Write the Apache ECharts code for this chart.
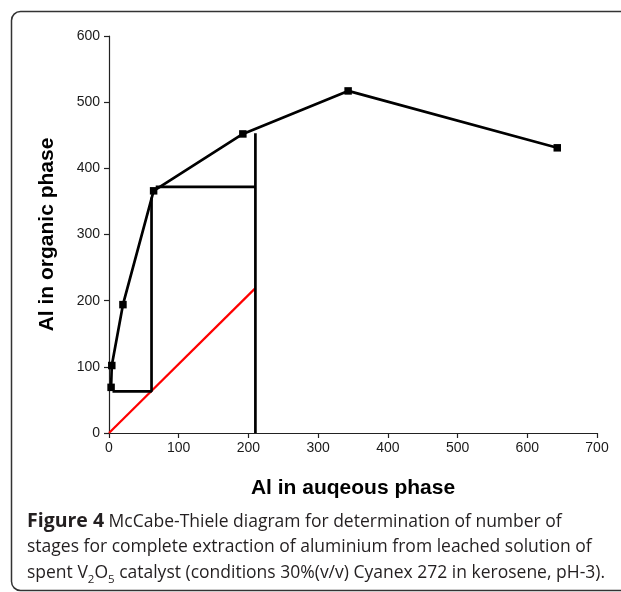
<!DOCTYPE html>
<html>
<head>
<meta charset="utf-8">
<script src="https://cdn.jsdelivr.net/npm/echarts@6/dist/echarts.min.js"></script>
<style>
  html, body { margin: 0; padding: 0; background: #fff; }
  #chart { width: 621px; height: 592px; }
</style>
</head>
<body>
<div id="chart"></div>
<script>
// equilibrium curve (aqueous, organic)
const equilibrium = [[3, 69], [4, 102], [20, 194], [64, 366], [192, 452], [343, 517], [643, 431]];
// stage construction lines
const stepOne = [[5, 63], [61, 63], [61, 356]];
const stepTwo = [[67, 372], [210, 372]];
const stepThree = [[210, 453], [210, 0]];
// operating line
const operating = [[0, 0], [210, 219]];

const xTicks = { min: 0, max: 700, interval: 100 };
const yTicks = { min: 0, max: 600, interval: 100 };

const chart = echarts.init(document.getElementById('chart'), null, { renderer: 'canvas' });

const stepStyle = {
  type: 'line',
  symbol: 'none',
  silent: true,
  lineStyle: { color: '#000', width: 2.7 },
  z: 3
};

const option = {
  backgroundColor: '#fff',
  animation: false,
  grid: { left: 109, right: 24, top: 36, bottom: 159 },
  xAxis: {
    type: 'value',
    min: xTicks.min, max: xTicks.max, interval: xTicks.interval,
    name: 'Al in auqeous phase',
    nameLocation: 'middle',
    nameGap: 45,
    nameTextStyle: { fontFamily: 'Liberation Sans', fontWeight: 'bold', fontSize: 21, color: '#000' },
    axisLine: { onZero: false, lineStyle: { color: '#222', width: 1.2 } },
    axisTick: { length: 5, lineStyle: { color: '#222', width: 1.2 } },
    axisLabel: { fontFamily: 'Liberation Sans', fontSize: 14, color: '#1a1a1a', margin: 8 },
    splitLine: { show: false }
  },
  yAxis: {
    type: 'value',
    min: yTicks.min, max: yTicks.max, interval: yTicks.interval,
    name: 'Al in organic phase',
    nameLocation: 'middle',
    nameGap: 51,
    nameTextStyle: { fontFamily: 'Liberation Sans', fontWeight: 'bold', fontSize: 21, color: '#000' },
    axisLine: { show: true, onZero: false, lineStyle: { color: '#222', width: 1.2 } },
    axisTick: { show: true, length: 5, lineStyle: { color: '#222', width: 1.2 } },
    axisLabel: { fontFamily: 'Liberation Sans', fontSize: 14, color: '#1a1a1a', margin: 9 },
    splitLine: { show: false }
  },
  series: [
    {
      type: 'line',
      data: operating,
      symbol: 'none',
      lineStyle: { color: '#ff0000', width: 2.2 },
      z: 2
    },
    Object.assign({ data: stepOne }, stepStyle),
    Object.assign({ data: stepTwo }, stepStyle),
    Object.assign({ data: stepThree }, stepStyle),
    {
      type: 'line',
      data: equilibrium,
      symbol: 'rect',
      symbolSize: 7.5,
      itemStyle: { color: '#000' },
      lineStyle: { color: '#000', width: 2.7 },
      z: 4
    }
  ],
  graphic: [
    {
      type: 'rect',
      shape: { x: 11.5, y: 11.5, width: 650, height: 579, r: 9 },
      style: { fill: 'none', stroke: '#333', lineWidth: 1.5 },
      silent: true
    },
    {
      type: 'text',
      left: 27,
      top: 509,
      silent: true,
      style: {
        text: '{b|Figure 4} McCabe-Thiele diagram for determination of number of\n' +
              'stages for complete extraction of aluminium from leached solution of\n' +
              'spent V{sub|2}O{sub|5} catalyst (conditions 30%(v/v) Cyanex 272 in kerosene, pH-3).',
        fontFamily: 'Open Sans',
        fontSize: 17.5,
        lineHeight: 25.5,
        fill: '#231f20',
        rich: {
          b: { fontFamily: 'Open Sans', fontWeight: 'bold', fontSize: 19.5, lineHeight: 25.5, fill: '#231f20' },
          sub: { fontFamily: 'Open Sans', fontSize: 11.5, verticalAlign: 'bottom', fill: '#231f20' }
        }
      }
    }
  ]
};

chart.setOption(option);
</script>
</body>
</html>
